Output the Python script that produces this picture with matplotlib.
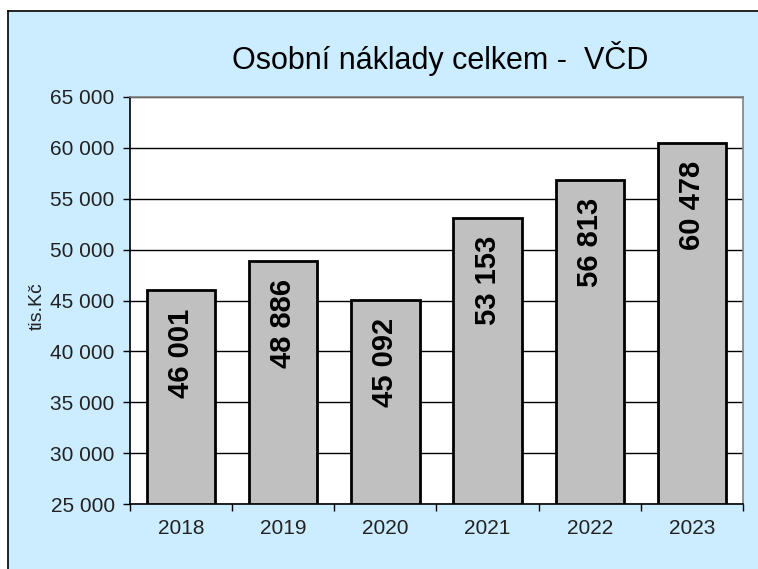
import matplotlib
matplotlib.use("Agg")
import matplotlib.pyplot as plt
from matplotlib.patches import Rectangle
from matplotlib.lines import Line2D

categories = ["2018", "2019", "2020", "2021", "2022", "2023"]
values = [46001, 48886, 45092, 53153, 56813, 60478]
value_labels = ["46 001", "48 886", "45 092", "53 153", "56 813", "60 478"]
yticks = [25000, 30000, 35000, 40000, 45000, 50000, 55000, 60000, 65000]
ytick_labels = ["25 000", "30 000", "35 000", "40 000", "45 000", "50 000", "55 000", "60 000", "65 000"]
title = "Osobní náklady celkem -  VČD"
ylabel = "tis.Kč"

plt.rcParams['font.family'] = ['Liberation Sans', 'DejaVu Sans']

W, H = 758, 569
fig = plt.figure(figsize=(W / 100, H / 100), dpi=100, facecolor="white")
bg = "#CCECFF"
fig.patches.append(Rectangle((8 / W, 0), 1 - 8 / W, 1 - 11 / H, transform=fig.transFigure,
                             facecolor=bg, edgecolor="none", zorder=-10))
fig.lines.append(Line2D([8 / W, 8 / W], [0, 1 - 11 / H], transform=fig.transFigure, color="black", lw=1.2, zorder=-9))
fig.lines.append(Line2D([8 / W, 1], [1 - 11 / H, 1 - 11 / H], transform=fig.transFigure, color="black", lw=1.2, zorder=-9))

left, right, top, bottom = 130, 743, 97, 504
ax = fig.add_axes([left / W, 1 - bottom / H, (right - left) / W, (bottom - top) / H])
ax.set_facecolor("white")

x = list(range(len(categories)))
ax.bar(x, [v - yticks[0] for v in values], bottom=yticks[0], width=0.67, color="#C0C0C0",
       edgecolor="black", linewidth=2, zorder=3)
for xi, v, lab in zip(x, values, value_labels):
    ax.annotate(lab, (xi, v), xytext=(0, -13), textcoords="offset points", rotation=90,
                ha="center", va="top", fontsize=21, fontweight="bold", zorder=4)

ax.set_xlim(-0.5, len(categories) - 0.5)
ax.set_ylim(yticks[0], yticks[-1])
ax.set_yticks(yticks)
ax.set_yticklabels(ytick_labels, fontsize=15, color="#222222")
ax.set_xticks(x)
ax.set_xticklabels(categories, fontsize=15, color="#222222")
ax.set_xticks([i - 0.5 for i in range(len(categories) + 1)], minor=True)
ax.tick_params(axis="x", which="major", length=0, pad=11)
ax.tick_params(axis="x", which="minor", length=5, width=1, direction="out")
ax.tick_params(axis="y", length=5, width=1, direction="out", pad=6)
ax.yaxis.grid(True, color="black", linewidth=1, zorder=1)
ax.set_axisbelow(True)
for s in ["top", "right"]:
    ax.spines[s].set_color("#808080")
    ax.spines[s].set_linewidth(1.2)
for s in ["left", "bottom"]:
    ax.spines[s].set_color("black")
    ax.spines[s].set_linewidth(1.2)

fig.text(37 / W, 1 - 306 / H, ylabel, rotation=90, ha="center", va="center", fontsize=14, color="#222222")
fig.text(440 / W, 1 - 58 / H, title, ha="center", va="center", fontsize=22, color="black")

fig.savefig("out.png", dpi=100, facecolor=fig.get_facecolor())
